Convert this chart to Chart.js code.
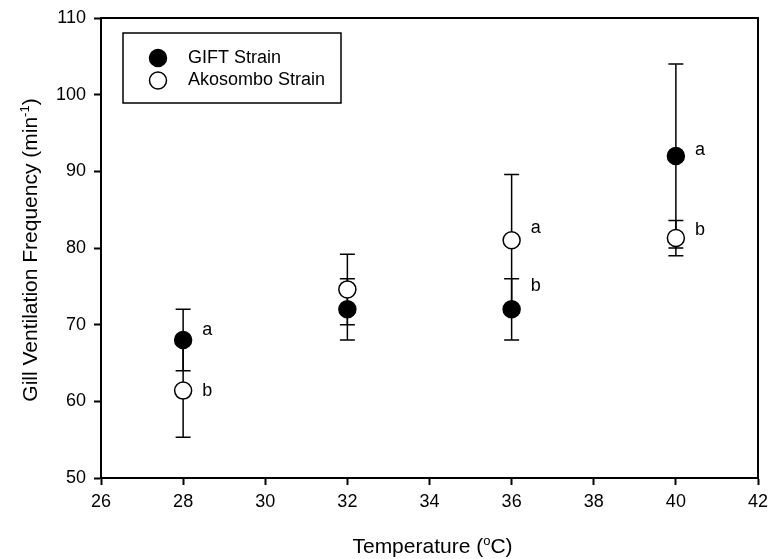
<!DOCTYPE html>
<html>
<head>
<meta charset="utf-8">
<script src="https://cdn.jsdelivr.net/npm/chart.js@4.4.1/dist/chart.umd.min.js"></script>
<style>
  body { margin: 0; background: #fff; }
</style>
</head>
<body>
<canvas id="chart" width="768" height="559"></canvas>
<script>
const temps = [28, 32, 36, 40];
const giftMean = [68, 72, 72, 92];
const giftErr = [4, 4, 4, 12];
const akoMean = [61.4, 74.6, 81.0, 81.3];
const akoErr = [6.1, 4.6, 8.6, 2.3];
// significance letters and the value they sit at
const giftLetters = ['a', '', 'b', 'a'];
const giftLetterY = [69.3, null, 75.1, 92.8];
const akoLetters = ['b', '', 'a', 'b'];
const akoLetterY = [61.4, null, 82.6, 82.3];
const xTicks = [26, 28, 30, 32, 34, 36, 38, 40, 42];
const yTicks = [50, 60, 70, 80, 90, 100, 110];

const FONT = 'Arial, "Liberation Sans", sans-serif';

const errorBars = {
  id: 'errorBars',
  beforeDatasetsDraw(chart) {
    const { ctx, scales: { x, y } } = chart;
    ctx.save();
    ctx.strokeStyle = '#000';
    ctx.lineWidth = 1.5;
    chart.data.datasets.forEach(ds => {
      ds.data.forEach((p, i) => {
        const px = x.getPixelForValue(p.x);
        const top = y.getPixelForValue(p.y + ds.errors[i]);
        const bot = y.getPixelForValue(p.y - ds.errors[i]);
        ctx.beginPath();
        ctx.moveTo(px, top); ctx.lineTo(px, bot);
        ctx.moveTo(px - 7.5, top); ctx.lineTo(px + 7.5, top);
        ctx.moveTo(px - 7.5, bot); ctx.lineTo(px + 7.5, bot);
        ctx.stroke();
      });
    });
    ctx.restore();
  },
  afterDatasetsDraw(chart) {
    const { ctx, scales: { x, y } } = chart;
    ctx.save();
    ctx.fillStyle = '#000';
    ctx.font = '18px ' + FONT;
    ctx.textBaseline = 'middle';
    ctx.textAlign = 'left';
    chart.data.datasets.forEach(ds => {
      ds.letters.forEach((t, i) => {
        if (!t) return;
        ctx.fillText(t, x.getPixelForValue(temps[i]) + 19, y.getPixelForValue(ds.letterY[i]));
      });
    });
    ctx.restore();
  }
};

function drawParts(ctx, parts, size) {
  // parts: [text, isSuper]
  const widths = parts.map(([t, sup]) => {
    ctx.font = (sup ? Math.round(size * 0.62) : size) + 'px ' + FONT;
    return ctx.measureText(t).width;
  });
  const total = widths.reduce((a, b) => a + b, 0);
  let cx = -total / 2;
  parts.forEach(([t, sup], i) => {
    ctx.font = (sup ? Math.round(size * 0.62) : size) + 'px ' + FONT;
    ctx.fillText(t, cx, sup ? -size * 0.38 : 0);
    cx += widths[i];
  });
}

const frameAndText = {
  id: 'frameAndText',
  afterDraw(chart) {
    const { ctx, chartArea: a } = chart;
    ctx.save();
    ctx.strokeStyle = '#000';
    ctx.lineWidth = 2;
    ctx.beginPath();
    ctx.moveTo(a.left, a.top); ctx.lineTo(a.right, a.top); ctx.lineTo(a.right, a.bottom);
    ctx.stroke();

    // axis titles
    ctx.fillStyle = '#000';
    ctx.textAlign = 'left';
    ctx.textBaseline = 'alphabetic';
    ctx.save();
    ctx.translate((a.left + a.right) / 2 + 3, 553);
    drawParts(ctx, [['Temperature (', false], ['o', true], ['C)', false]], 21);
    ctx.restore();
    ctx.save();
    ctx.translate(37, (a.top + a.bottom) / 2 + 2);
    ctx.rotate(-Math.PI / 2);
    drawParts(ctx, [['Gill Ventilation Frequency (min', false], ['-1', true], [')', false]], 21);
    ctx.restore();

    // legend
    ctx.lineWidth = 1.5;
    ctx.strokeRect(123, 33, 218, 70);
    ctx.font = '18px ' + FONT;
    ctx.textBaseline = 'middle';
    chart.data.datasets.forEach((ds, i) => {
      const ly = 58 + i * 22.5;
      ctx.beginPath();
      ctx.arc(158, ly, 8.5, 0, Math.PI * 2);
      ctx.fillStyle = ds.backgroundColor;
      ctx.fill();
      ctx.strokeStyle = ds.borderColor;
      ctx.lineWidth = 1.5;
      ctx.stroke();
      ctx.fillStyle = '#000';
      ctx.fillText(ds.label, 188, ly);
    });
    ctx.restore();
  }
};

new Chart(document.getElementById('chart'), {
  type: 'scatter',
  data: {
    datasets: [
      {
        label: 'GIFT Strain',
        data: temps.map((t, i) => ({ x: t, y: giftMean[i] })),
        errors: giftErr,
        letters: giftLetters,
        letterY: giftLetterY,
        backgroundColor: '#000',
        borderColor: '#000',
        borderWidth: 1.5,
        pointRadius: 8.5,
        pointHoverRadius: 8.5
      },
      {
        label: 'Akosombo Strain',
        data: temps.map((t, i) => ({ x: t, y: akoMean[i] })),
        errors: akoErr,
        letters: akoLetters,
        letterY: akoLetterY,
        backgroundColor: '#fff',
        borderColor: '#000',
        borderWidth: 1.5,
        pointRadius: 8.5,
        pointHoverRadius: 8.5
      }
    ]
  },
  options: {
    responsive: false,
    animation: false,
    devicePixelRatio: 1,
    layout: { padding: { top: 18, right: 9, left: 0, bottom: 0 } },
    plugins: { legend: { display: false }, tooltip: { enabled: false } },
    scales: {
      x: {
        type: 'linear',
        min: 26, max: 42,
        afterFit(scale) { scale.height = 81; scale.paddingLeft = 0; scale.paddingRight = 0; },
        afterBuildTicks(scale) { scale.ticks = xTicks.map(v => ({ value: v })); },
        ticks: { color: '#000', font: { size: 18, family: FONT }, padding: 6, autoSkip: false, maxRotation: 0 },
        grid: { drawOnChartArea: false, drawTicks: true, tickLength: 7, tickWidth: 2, tickColor: '#000' },
        border: { display: true, color: '#000', width: 2 }
      },
      y: {
        min: 50, max: 110,
        afterFit(scale) { scale.width = 101; scale.paddingTop = 0; scale.paddingBottom = 0; },
        afterBuildTicks(scale) { scale.ticks = yTicks.map(v => ({ value: v })); },
        ticks: { color: '#000', font: { size: 18, family: FONT }, padding: 8, autoSkip: false },
        grid: { drawOnChartArea: false, drawTicks: true, tickLength: 7, tickWidth: 2, tickColor: '#000' },
        border: { display: true, color: '#000', width: 2 }
      }
    }
  },
  plugins: [errorBars, frameAndText]
});
</script>
</body>
</html>
